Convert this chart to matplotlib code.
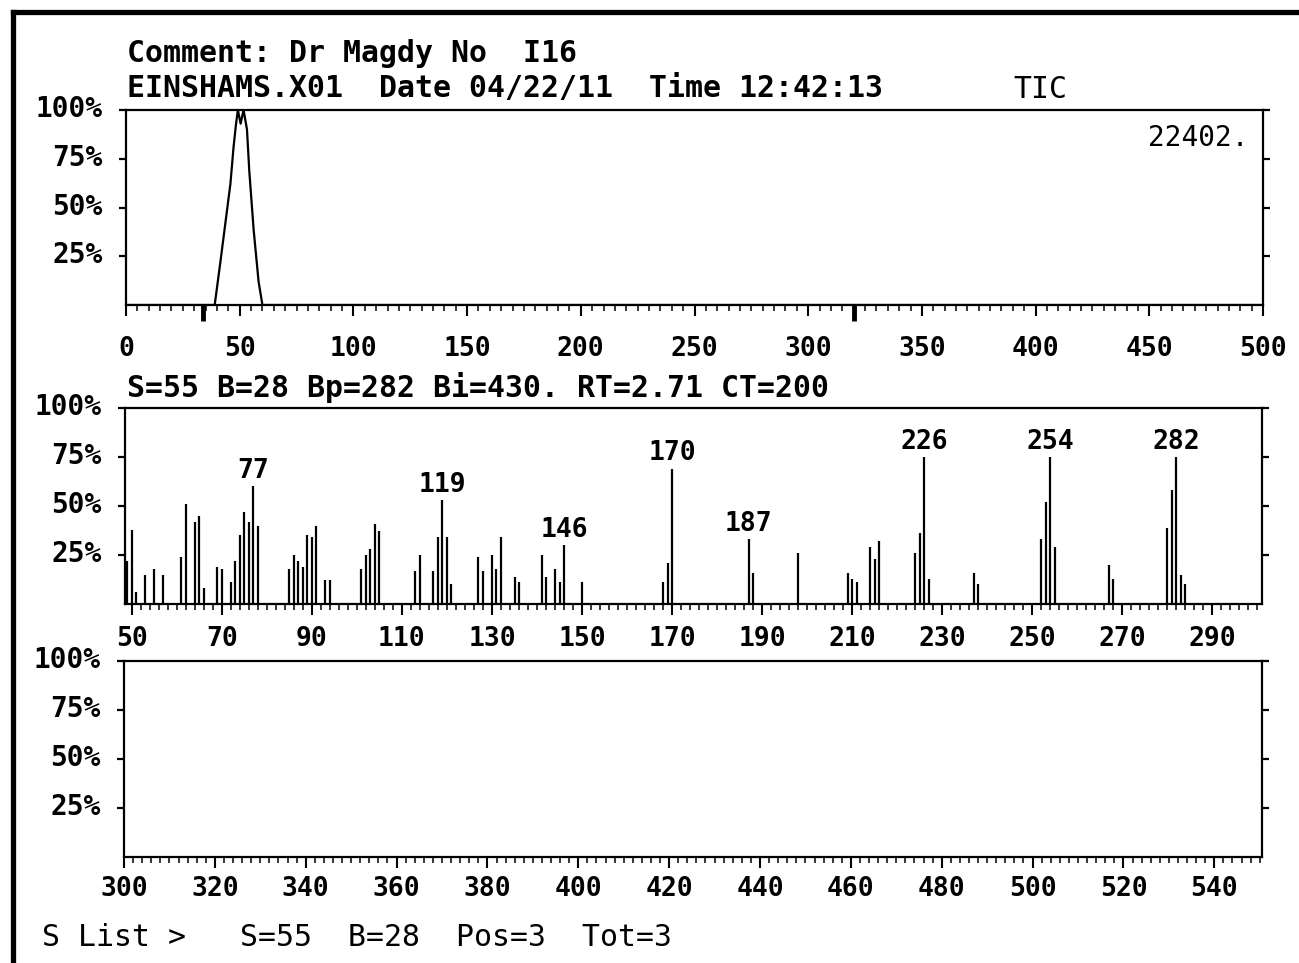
import matplotlib
matplotlib.use("Agg")
import matplotlib.pyplot as plt
from matplotlib.lines import Line2D
from matplotlib.ticker import MultipleLocator, FixedLocator
import matplotlib.transforms as mtransforms

plt.rcParams['font.family'] = ['DejaVu Sans Mono', 'DejaVu Sans']
plt.rcParams['font.weight'] = 'bold'

W, H = 1299, 963

# ---------------- data ----------------
header1 = "Comment: Dr Magdy No  I16"
header2 = "EINSHAMS.X01  Date 04/22/11  Time 12:42:13"
tic_title = "TIC"
tic_max_label = "22402."
spec_header = "S=55 B=28 Bp=282 Bi=430. RT=2.71 CT=200"
footer = "S List >   S=55  B=28  Pos=3  Tot=3"

# TIC chromatogram (scan number vs % of max)
tic_scan = [0, 39, 41.5, 43.7, 45.9, 47.3, 48.3, 49.2, 50.4, 51.7, 53.2, 54.2, 56.1, 58.3, 60, 500]
tic_pct = [0, 0, 22, 42, 62, 81, 92, 100, 93, 100, 90, 69, 39, 12, 0, 0]
tic_marks = [34, 320]
tic_xticks = [0, 50, 100, 150, 200, 250, 300, 350, 400, 450, 500]

# Mass spectrum (m/z vs relative %)
ms_mz = [49, 50, 51, 53, 55, 57, 61, 62, 64, 65, 66,
         69, 70, 72, 73, 74, 75, 76, 77, 78,
         85, 86, 87, 88, 89, 90, 91, 93, 94,
         101, 102, 103, 104, 105,
         113, 114, 117, 118, 119, 120, 121,
         127, 128, 130, 131, 132, 135, 136,
         141, 142, 144, 145, 146, 150,
         168, 169, 170,
         187, 188, 198,
         209, 210, 211, 214, 215, 216,
         224, 225, 226, 227,
         237, 238,
         252, 253, 254, 255,
         267, 268,
         280, 281, 282, 283, 284]
ms_pct = [22, 38, 6, 15, 18, 15, 24, 51, 42, 45, 8,
          19, 18, 11, 22, 35, 47, 42, 60, 40,
          18, 25, 22, 19, 35, 34, 40, 12, 12,
          18, 25, 28, 41, 37,
          17, 25, 17, 34, 53, 34, 10,
          24, 17, 25, 18, 34, 14, 11,
          25, 14, 18, 11, 30, 11,
          11, 21, 69,
          33, 16, 26,
          16, 13, 11, 29, 23, 32,
          26, 36, 75, 13,
          16, 10,
          33, 52, 75, 29,
          20, 13,
          39, 58, 75, 15, 10]
ms_labels = [77, 119, 146, 170, 187, 226, 254, 282]
ms_xticks = [50, 70, 90, 110, 130, 150, 170, 190, 210, 230, 250, 270, 290]
ms2_xticks = [300, 320, 340, 360, 380, 400, 420, 440, 460, 480, 500, 520, 540]

y_ticks = [25, 50, 75, 100]
y_ticklabels = ["25%", "50%", "75%", "100%"]

# ---------------- figure ----------------
fig = plt.figure(figsize=(W / 100, H / 100), dpi=100)
fig.patch.set_facecolor('white')


def rect(l, t, r, b):
    return [l / W, 1 - b / H, (r - l) / W, (b - t) / H]


def style(ax, xpad):
    for s in ax.spines.values():
        s.set_linewidth(1.6)
        s.set_color('black')
    ax.set_ylim(0, 100)
    ax.set_yticks(y_ticks)
    ax.set_yticklabels(y_ticklabels)
    ax.tick_params(axis='y', which='both', left=True, right=True, direction='out',
                   length=5, width=1.6, labelsize=20, pad=12, labelright=False)
    ax.tick_params(axis='x', which='major', direction='out', length=8, width=1.5,
                   labelsize=19, pad=xpad)
    ax.tick_params(axis='x', which='minor', direction='out', length=4, width=1.1)
    off = mtransforms.ScaledTranslation(0, 4 / 100, fig.dpi_scale_trans)
    for lab in ax.get_yticklabels():
        lab.set_transform(lab.get_transform() + off)
    ax.set_facecolor('white')


# Top: TIC
ax1 = fig.add_axes(rect(126, 110, 1263, 305))
ax1.plot(tic_scan, tic_pct, color='black', lw=1.6)
ax1.set_xlim(0, 500)
ax1.set_xticks(tic_xticks)
ax1.set_xticklabels([str(v) for v in tic_xticks])
ax1.xaxis.set_minor_locator(MultipleLocator(5))
style(ax1, 14)
for m in tic_marks:
    ax1.plot([m, m], [0, -8], color='black', lw=3.5, clip_on=False, solid_capstyle='butt')
ax1.text(0.987, 0.93, tic_max_label, transform=ax1.transAxes, ha='right', va='top',
         fontsize=20, fontweight='normal')

# Middle: mass spectrum
ax2 = fig.add_axes(rect(125, 408, 1262, 604))
ax2.vlines(ms_mz, 0, ms_pct, color='black', lw=1.6)
ax2.set_xlim(48.5, 301)
ax2.set_xticks(ms_xticks)
ax2.set_xticklabels([str(v) for v in ms_xticks])
style(ax2, 8)
ax2.xaxis.set_minor_locator(FixedLocator([v for v in range(50, 301, 2) if v not in ms_xticks]))
for mz in ms_labels:
    p = ms_pct[ms_mz.index(mz)]
    ax2.annotate(str(mz), (mz, p), xytext=(0, 6), textcoords='offset points',
                 ha='center', va='baseline', fontsize=19, fontweight='bold')

# Bottom: empty continuation
ax3 = fig.add_axes(rect(124, 661, 1262, 857))
ax3.set_xlim(300, 550.5)
ax3.set_xticks(ms2_xticks)
ax3.set_xticklabels([str(v) for v in ms2_xticks])
ax3.xaxis.set_minor_locator(MultipleLocator(2))
style(ax3, 6)


def ftext(x, y, s, **kw):
    fig.text(x / W, 1 - y / H, s, va='baseline', **kw)


ftext(127, 62, header1, fontsize=21.5, fontweight='bold')
ftext(127, 97, header2, fontsize=21.5, fontweight='bold')
ftext(1013, 98, tic_title, fontsize=21.5, fontweight='normal')
ftext(127, 397, spec_header, fontsize=21.5, fontweight='bold')
ftext(42, 946, footer, fontsize=21.5, fontweight='normal')

# Page border
fig.add_artist(Line2D([12.5 / W, 1], [1 - 12.5 / H] * 2, color='black', lw=3.8,
                      transform=fig.transFigure, solid_capstyle='projecting'))
fig.add_artist(Line2D([12.5 / W] * 2, [1 - 12.5 / H, 0], color='black', lw=3.8,
                      transform=fig.transFigure, solid_capstyle='projecting'))

fig.savefig('out.png', dpi=100, facecolor='white')
